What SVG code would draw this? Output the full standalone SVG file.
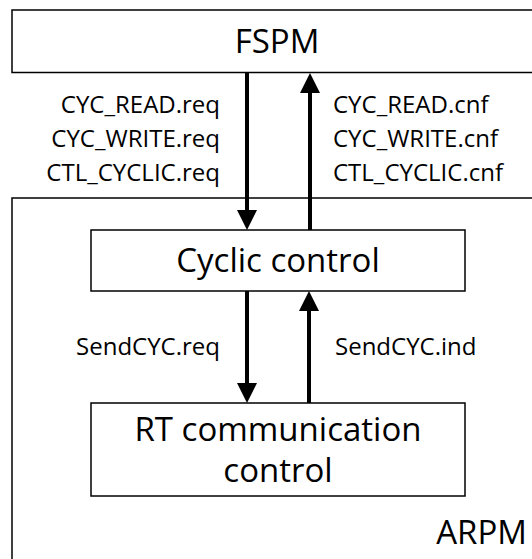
<svg xmlns="http://www.w3.org/2000/svg" width="532" height="559" viewBox="0 0 532 559">
<style>
.box{fill:#fff;stroke:#000;stroke-width:1.5}
.t{font-family:"Open Sans","Liberation Sans",Arial,sans-serif;fill:#000}
.s{font-size:24px}
.b{font-size:33px}
.c{stroke:#000;stroke-width:4;fill:none}
</style>
<defs>
<marker id="ah" markerWidth="5" markerHeight="5" refX="0" refY="2.5" orient="auto" markerUnits="strokeWidth" viewBox="0 0 5 5">
<path d="M0,0 L5,2.5 L0,5 Z" fill="#000"/>
</marker>
</defs>
<g id="arpm">
<rect class="box" x="12" y="198" width="530" height="380"/>
<text class="t b" x="527" y="544" text-anchor="end">ARPM</text>
</g>
<g id="fspm">
<rect class="box" x="12" y="10" width="530" height="62.5"/>
<text class="t b" x="277" y="53" text-anchor="middle">FSPM</text>
</g>
<g id="cyclic">
<rect class="box" x="91" y="230" width="374" height="61"/>
<text class="t b" x="278" y="272" text-anchor="middle">Cyclic control</text>
</g>
<g id="rt">
<rect class="box" x="91" y="403" width="374" height="93"/>
<text class="t b" x="278" y="441" text-anchor="middle">RT communication</text>
<text class="t b" x="278" y="482" text-anchor="middle">control</text>
</g>
<g id="connectors">
<line class="c" x1="247" y1="72" x2="247" y2="210" marker-end="url(#ah)"/>
<line class="c" x1="310" y1="230" x2="310" y2="93" marker-end="url(#ah)"/>
<line class="c" x1="247" y1="291" x2="247" y2="383" marker-end="url(#ah)"/>
<line class="c" x1="309" y1="403" x2="309" y2="311" marker-end="url(#ah)"/>
</g>
<g id="labels">
<text class="t s" x="220" y="113" text-anchor="end">CYC_READ.req</text>
<text class="t s" x="220" y="147" text-anchor="end">CYC_WRITE.req</text>
<text class="t s" x="220" y="181" text-anchor="end">CTL_CYCLIC.req</text>
<text class="t s" x="333" y="113">CYC_READ.cnf</text>
<text class="t s" x="333" y="147">CYC_WRITE.cnf</text>
<text class="t s" x="333" y="181">CTL_CYCLIC.cnf</text>
<text class="t s" x="220" y="355" text-anchor="end">SendCYC.req</text>
<text class="t s" x="335" y="355">SendCYC.ind</text>
</g>
</svg>
